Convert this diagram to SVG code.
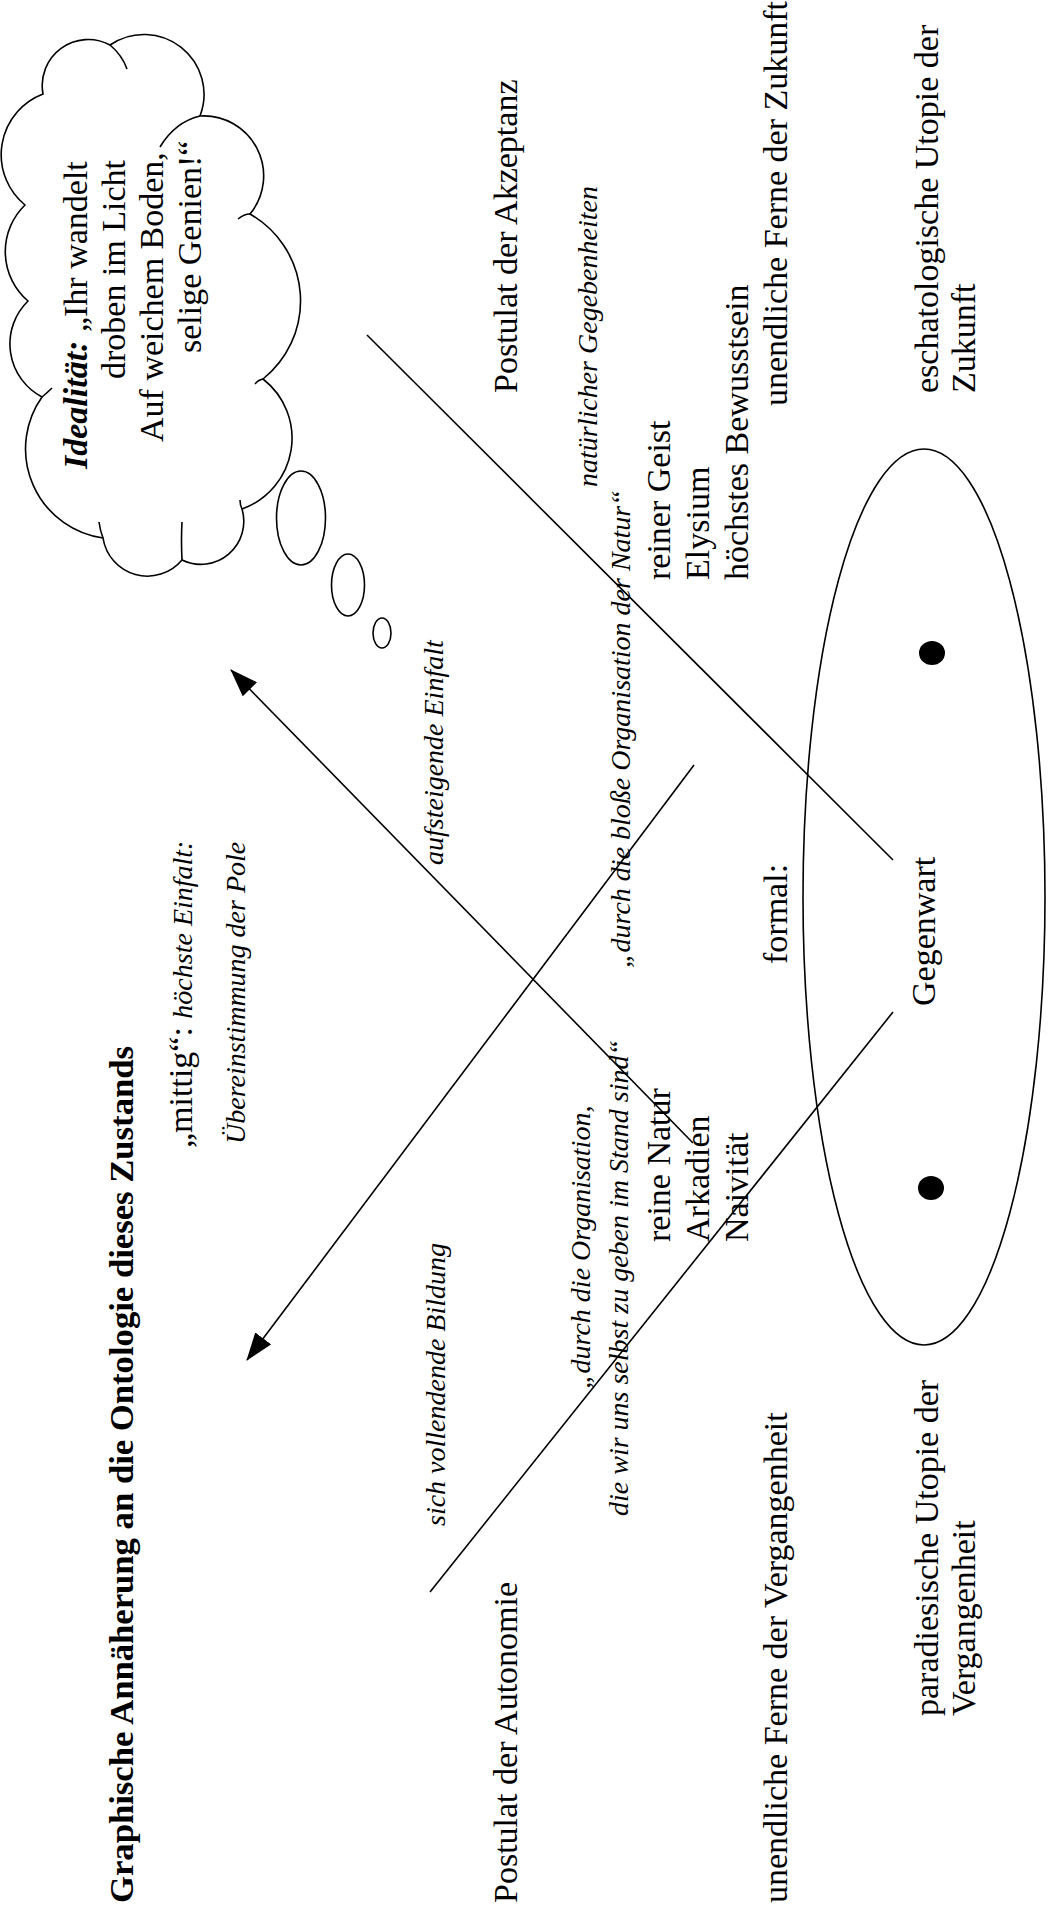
<svg xmlns="http://www.w3.org/2000/svg" width="1050" height="1910" viewBox="0 0 1050 1910">
<defs>
<marker id="ah" markerWidth="28" markerHeight="20" refX="27" refY="10" orient="auto" markerUnits="userSpaceOnUse">
<path d="M0,0 L28,10 L0,20 z" fill="#000"/>
</marker>
</defs>
<style>
text{font-family:"Liberation Serif","Times New Roman",serif;fill:#000}
.b{font-size:34px}
.i{font-size:28px;font-style:italic}
.bi{font-weight:bold;font-style:italic}
.t{font-size:34.5px;font-weight:bold}
.ln{stroke:#000;stroke-width:1.6;fill:none}
.sh{stroke:#000;stroke-width:1.6;fill:#fff}
</style>
<rect width="1050" height="1910" fill="#fff"/>

<g id="connectors">
<line class="ln" x1="367" y1="335" x2="893" y2="860"/>
<line class="ln" x1="693" y1="1143" x2="231" y2="670" marker-end="url(#ah)"/>
<line class="ln" x1="694" y1="765" x2="247" y2="1360" marker-end="url(#ah)"/>
<line class="ln" x1="893" y1="1012" x2="430" y2="1592"/>
</g>

<g id="cloud">
<path class="sh" d="M43,94 A46,46 0 0 1 110,45 A60,60 0 0 1 200,116 A60,60 0 0 1 250,214 A100,100 0 0 1 263,379 A75,75 0 0 1 242,509 A43,43 0 0 1 182,560 A45,45 0 0 1 103,538 A90,90 0 0 1 42,397 A60,60 0 0 1 28,301 A65,65 0 0 1 25,205 A65,65 0 0 1 43,94 Z"/>
<path class="ln" d="M110,45 Q122,55 127,69 M160,147 Q175,122 200,116 M250,214 Q244,214 238,219 M263,379 Q258,380 255,384 M242,509 Q240,505 240,500 M182,560 Q181,540 182,522 M103,538 Q100,530 99,522 M42,397 Q48,392 52,388"/>
<text class="b" transform="translate(87,469) rotate(-90)"><tspan class="bi">Idealität:</tspan> „Ihr wandelt</text>
<text class="b" transform="translate(125,379) rotate(-90)">droben im Licht</text>
<text class="b" transform="translate(163,442) rotate(-90)">Auf weichem Boden,</text>
<text class="b" transform="translate(201,353) rotate(-90)">selige Genien!“</text>
</g>

<g id="bubbles">
<ellipse class="sh" cx="301" cy="518" rx="24.5" ry="47"/>
<ellipse class="sh" cx="348" cy="585" rx="16.5" ry="31"/>
<ellipse class="sh" cx="382" cy="633" rx="9" ry="15"/>
</g>

<g id="present-ellipse">
<ellipse class="ln" cx="924" cy="897" rx="121" ry="448"/>
<ellipse cx="932" cy="653" rx="13" ry="12" fill="#000"/>
<ellipse cx="931" cy="1188" rx="13" ry="12" fill="#000"/>
</g>

<g id="title">
<text class="t" transform="translate(133,1903) rotate(-90)" textLength="857" lengthAdjust="spacingAndGlyphs">Graphische Annäherung an die Ontologie dieses Zustands</text>
</g>

<g id="mittig">
<text class="b" transform="translate(192,1148) rotate(-90)">„mittig“: <tspan class="i">höchste Einfalt:</tspan></text>
<text class="i" transform="translate(245,1144) rotate(-90)">Übereinstimmung der Pole</text>
</g>

<g id="arrow-labels">
<text class="i" transform="translate(443,865) rotate(-90)">aufsteigende Einfalt</text>
<text class="i" transform="translate(445,1526) rotate(-90)">sich vollendende Bildung</text>
</g>

<g id="postulates">
<text class="b" transform="translate(517,393) rotate(-90)">Postulat der Akzeptanz</text>
<text class="b" transform="translate(517,1903) rotate(-90)">Postulat der Autonomie</text>
</g>

<g id="quotes">
<text class="i" transform="translate(597,487) rotate(-90)">natürlicher Gegebenheiten</text>
<text class="i" transform="translate(630,968) rotate(-90)">„durch die bloße Organisation der Natur“</text>
<text class="i" transform="translate(590,1389) rotate(-90)">„durch die Organisation,</text>
<text class="i" transform="translate(628,1516) rotate(-90)">die wir uns selbst zu geben im Stand sind“</text>
</g>

<g id="future-list">
<text class="b" transform="translate(670,580) rotate(-90)">reiner Geist</text>
<text class="b" transform="translate(709,580) rotate(-90)">Elysium</text>
<text class="b" transform="translate(748,580) rotate(-90)">höchstes Bewusstsein</text>
</g>

<g id="past-list">
<text class="b" transform="translate(670,1242) rotate(-90)">reine Natur</text>
<text class="b" transform="translate(709,1242) rotate(-90)">Arkadien</text>
<text class="b" transform="translate(748,1242) rotate(-90)">Naivität</text>
</g>

<g id="distances">
<text class="b" transform="translate(787,406) rotate(-90)">unendliche Ferne der Zukunft</text>
<text class="b" transform="translate(787,964) rotate(-90)">formal:</text>
<text class="b" transform="translate(787,1903) rotate(-90)">unendliche Ferne der Vergangenheit</text>
</g>

<g id="gegenwart">
<text class="b" transform="translate(935,1006) rotate(-90)">Gegenwart</text>
</g>

<g id="utopias">
<text class="b" transform="translate(938,393) rotate(-90)">eschatologische Utopie der</text>
<text class="b" transform="translate(975,393) rotate(-90)">Zukunft</text>
<text class="b" transform="translate(938,1716) rotate(-90)">paradiesische Utopie der</text>
<text class="b" transform="translate(975,1716) rotate(-90)">Vergangenheit</text>
</g>
</svg>
